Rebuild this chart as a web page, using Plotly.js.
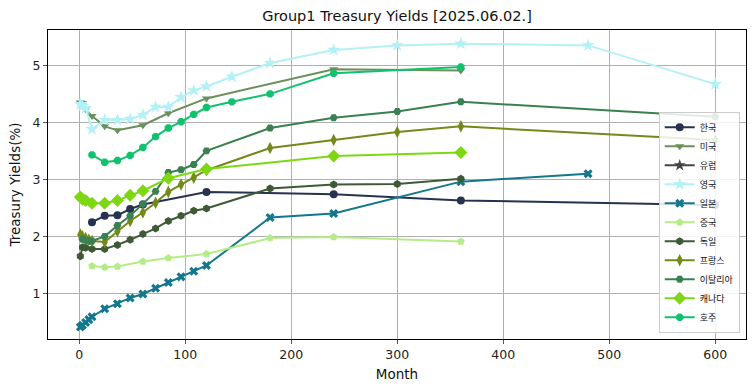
<!DOCTYPE html>
<html>
<head>
<meta charset="utf-8">
<script src="https://cdn.plot.ly/plotly-3.0.1.min.js"></script>
<style>html,body{margin:0;padding:0;background:#fff;}#chart{width:755px;height:391px;}</style>
</head>
<body>
<div id="chart"></div>
<script>
const seriesNames = ["한국","미국","유럽","영국","일본","중국","독일","프랑스","이탈리아","캐나다","호주"];

const krMonths = [12,24,36,48,60,120,240,360,600];
const krYields = [2.26,2.37,2.38,2.49,2.57,2.79,2.75,2.64,2.56];

const usMonths = [1,3,6,12,24,36,60,84,120,240,360];
const usYields = [4.36,4.35,4.24,4.12,3.94,3.87,3.96,4.17,4.43,4.94,4.92];

const euMonths = [];
const euYields = [];

const ukMonths = [1,3,6,12,24,36,48,60,72,84,96,108,120,144,180,240,300,360,480,600];
const ukYields = [4.33,4.30,4.26,3.89,4.05,4.05,4.07,4.14,4.28,4.28,4.45,4.57,4.64,4.81,5.05,5.28,5.36,5.39,5.36,4.68];

const jpMonths = [1,3,6,9,12,24,36,48,60,72,84,96,108,120,180,240,360,480];
const jpYields = [0.42,0.45,0.50,0.55,0.60,0.74,0.83,0.93,1.00,1.10,1.20,1.30,1.40,1.50,2.34,2.41,2.97,3.11];

const cnMonths = [12,24,36,60,84,120,180,240,360];
const cnYields = [1.49,1.47,1.48,1.57,1.63,1.70,1.98,2.00,1.92];

const deMonths = [1,3,6,12,24,36,48,60,72,84,96,108,120,180,240,300,360];
const deYields = [1.66,1.82,1.81,1.79,1.79,1.86,1.95,2.05,2.15,2.28,2.37,2.46,2.50,2.85,2.92,2.93,3.02];

const frMonths = [1,3,6,9,12,24,36,48,60,72,84,96,108,120,180,240,300,360,600];
const frYields = [2.04,2.01,1.98,1.95,1.93,1.91,2.10,2.28,2.43,2.60,2.79,2.92,3.04,3.17,3.56,3.70,3.84,3.94,3.70];

const itMonths = [3,6,9,12,24,36,48,60,72,84,96,108,120,180,240,300,360,600];
const itYields = [1.96,1.94,1.93,1.93,2.01,2.20,2.37,2.58,2.80,3.13,3.18,3.27,3.51,3.91,4.09,4.20,4.37,4.11];

const caMonths = [1,3,6,12,24,36,48,60,84,120,240,360];
const caYields = [2.70,2.66,2.64,2.59,2.59,2.64,2.73,2.81,3.03,3.19,3.42,3.48];

const auMonths = [12,24,36,48,60,72,84,96,108,120,144,180,240,360];
const auYields = [3.44,3.31,3.34,3.43,3.57,3.76,3.91,4.02,4.15,4.27,4.37,4.51,4.87,4.98];

const colors = ["#26324f","#6b905a","#444444","#b3f1f6","#13788b","#b5ec88","#3d5a34","#738a1a","#3a8050","#7dd813","#10c26e"];
const symbols = ["circle","triangle-down","star","star","x","pentagon","hexagon","diamond-tall","hexagon2","diamond","octagon"];
const sizes = [8,8,9,10,8,8,8,9,8,10,8];

const allMonths = [krMonths,usMonths,euMonths,ukMonths,jpMonths,cnMonths,deMonths,frMonths,itMonths,caMonths,auMonths];
const allYields = [krYields,usYields,euYields,ukYields,jpYields,cnYields,deYields,frYields,itYields,caYields,auYields];

const traces = seriesNames.map((n,i)=>({
  type:"scatter", mode:"lines+markers", name:n,
  x: allMonths[i].length ? allMonths[i] : [null],
  y: allYields[i].length ? allYields[i] : [null],
  line:{color:colors[i], width:2},
  marker:{color:colors[i], symbol:symbols[i], size:sizes[i]},
  showlegend:true
}));

const font = "DejaVu Sans, sans-serif";
const layout = {
  width:755, height:391,
  margin:{l:48, r:9, t:30, b:52},
  paper_bgcolor:"#fff", plot_bgcolor:"#fff",
  font:{family:font, size:12, color:"#222"},
  title:{text:"Group1 Treasury Yields [2025.06.02.]", xref:"paper", x:0.5, xanchor:"center", y:0.958, yanchor:"middle", font:{family:font,size:14.5,color:"#111"}},
  xaxis:{range:[-29.5,629], tickvals:[0,100,200,300,400,500,600], showgrid:true, gridcolor:"#b0b0b0", gridwidth:1,
    zeroline:false, showline:true, linecolor:"#000", linewidth:1, mirror:true, ticks:"outside", ticklen:4, tickcolor:"#555",
    title:{text:"Month", font:{family:font,size:13.5,color:"#111"}, standoff:8}, tickfont:{family:font,size:12.5,color:"#222"}},
  yaxis:{range:[0.21,5.63], tickvals:[1,2,3,4,5], showgrid:true, gridcolor:"#b0b0b0", gridwidth:1,
    zeroline:false, showline:true, linecolor:"#000", linewidth:1, mirror:true, ticks:"outside", ticklen:4, tickcolor:"#555",
    title:{text:"Treasury Yields(%)", font:{family:font,size:13.5,color:"#111"}, standoff:8}, tickfont:{family:font,size:12.5,color:"#222"}},
  legend:{x:0.991, y:0.02, xanchor:"right", yanchor:"bottom", bgcolor:"rgba(255,255,255,0.85)", bordercolor:"#cccccc", borderwidth:1,
    font:{family:"Noto Sans CJK KR, sans-serif", size:9, color:"#111"}, tracegroupgap:0, itemwidth:30}
};

Plotly.newPlot("chart", traces, layout, {staticPlot:true, displayModeBar:false});
</script>
</body>
</html>
